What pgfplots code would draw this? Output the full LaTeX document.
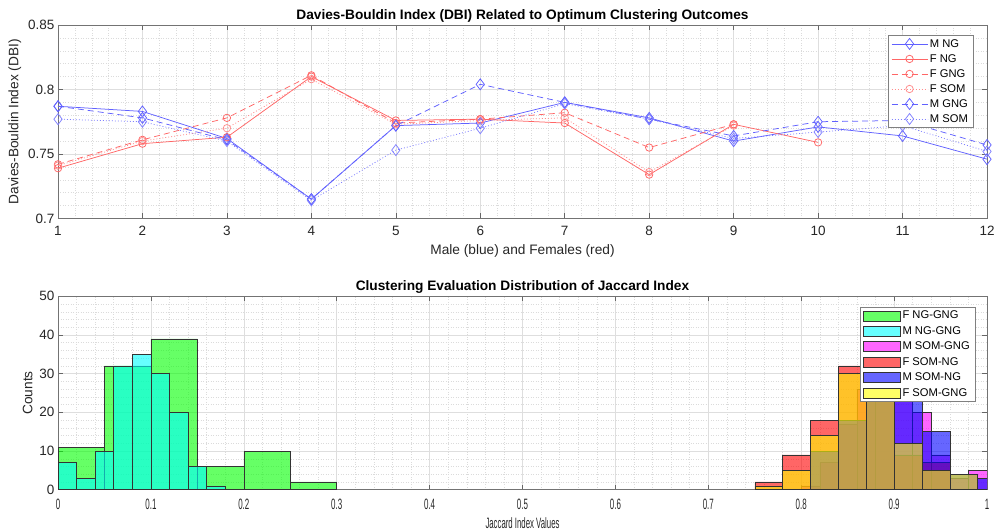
\documentclass[border=0pt]{standalone}
\usepackage{pgfplots}
\pgfplotsset{compat=1.18}
\usepackage{fontspec}
\setmainfont{Liberation Sans}
\definecolor{mblue}{rgb}{0.38,0.38,1}
\definecolor{fred}{rgb}{1,0.4,0.4}
\definecolor{axgray}{rgb}{0.15,0.15,0.15}
\definecolor{gridmaj}{rgb}{0.87,0.87,0.87}
\definecolor{gridmin}{rgb}{0.86,0.86,0.86}
\definecolor{hgreen}{rgb}{0,1,0}
\definecolor{hcyan}{rgb}{0,1,1}
\definecolor{hmagenta}{rgb}{1,0,1}
\definecolor{hred}{rgb}{1,0,0}
\definecolor{hblue}{rgb}{0,0,1}
\definecolor{hyellow}{rgb}{1,1,0}
\begin{document}
\begin{tikzpicture}
\useasboundingbox (0pt,0pt) rectangle (995pt,532pt);
\pgfplotsset{
  mystyle/.style={
    scale only axis, width=929pt, height=193.5pt,
    axis line style={draw=black!55, line width=0.6pt},
    tick style={draw=black!60, line width=0.6pt},
    tick align=inside, major tick length=5pt, minor tick length=0pt,
    grid=both,
    major grid style={draw=gridmaj, line width=0.5pt},
    minor grid style={draw=gridmin, line width=0.5pt, dotted},
    ticklabel style={font=\fontsize{13.5}{15}\selectfont, text=axgray},
    /pgf/number format/assume math mode=true,
    label style={font=\fontsize{13.7}{16}\selectfont, text=axgray},
    title style={font=\bfseries\fontsize{13.7}{16}\selectfont, yshift=-7pt},
    legend cell align=left,
  },
  dbiline/.style={line width=0.75pt},
  histbar/.style={ybar, bar shift=0pt, fill opacity=0.6, draw=black!80, line width=0.5pt},
}
\begin{axis}[mystyle, at={(58pt,313.5pt)}, anchor=south west,
  xmin=1, xmax=12, ymin=0.7, ymax=0.85,
  xtick={1,...,12}, ytick={0.7,0.75,0.8,0.85},
  yticklabels={0.7,0.75,0.8,0.85},
  minor x tick num=4, minor y tick num=4,
  xticklabel style={yshift=-4pt},
  xlabel style={yshift=-2pt},
  title={Davies-Bouldin Index (DBI) Related to Optimum Clustering Outcomes},
  xlabel={Male (blue) and Females (red)},
  ylabel={Davies-Bouldin Index (DBI)},
  legend style={at={(axis description cs:0.985,0.948)}, anchor=north east,
    font=\fontsize{11.2}{12}\selectfont, draw=black!50, fill=white, row sep=1.7pt},
  legend image code/.code={\draw[mark repeat=2,mark phase=2,#1] plot coordinates {(0pt,0pt) (18pt,0pt) (36pt,0pt)};},
]
\addplot[dbiline, mblue, mark=diamond, mark size=5.5pt] coordinates {
(1,0.787) (2,0.783) (3,0.762) (4,0.715) (5,0.772) (6,0.774) (7,0.790) (8,0.778) (9,0.760) (10,0.771) (11,0.764) (12,0.746)};
\addlegendentry{M NG}
\addplot[dbiline, fred, mark=o, mark size=3.7pt] coordinates {
(1,0.739) (2,0.758) (3,0.763) (4,0.810) (5,0.776) (6,0.777) (7,0.774) (8,0.734) (9,0.773) (10,0.759)};
\addlegendentry{F NG}
\addplot[dbiline, fred, dash pattern=on 6pt off 4pt, mark=o, mark size=3.7pt, mark options={solid}] coordinates {
(1,0.742) (2,0.761) (3,0.778) (4,0.811) (5,0.774) (6,0.777) (7,0.782) (8,0.755) (9,0.773)};
\addlegendentry{F GNG}
\addplot[dbiline, fred!75, dash pattern=on 1pt off 2pt, mark=o, mark size=3.7pt, mark options={solid}] coordinates {
(1,0.741) (2,0.760) (3,0.770) (4,0.808) (5,0.773) (6,0.776) (7,0.778) (8,0.736) (9,0.772)};
\addlegendentry{F SOM}
\addplot[dbiline, mblue, dash pattern=on 6pt off 4pt, mark=diamond, mark size=5.5pt, mark options={solid}] coordinates {
(1,0.787) (2,0.778) (3,0.761) (4,0.715) (5,0.772) (6,0.804) (7,0.790) (8,0.777) (9,0.764) (10,0.775) (11,0.776) (12,0.757)};
\addlegendentry{M GNG}
\addplot[dbiline, mblue!80, dash pattern=on 1pt off 2pt, mark=diamond, mark size=5.5pt, mark options={solid}] coordinates {
(1,0.777) (2,0.775) (3,0.760) (4,0.714) (5,0.753) (6,0.770) (7,0.789) (8,0.777) (9,0.762) (10,0.767) (11,0.772) (12,0.752)};
\addlegendentry{M SOM}
\end{axis}

\begin{axis}[mystyle, at={(58pt,42.3pt)}, anchor=south west,
  height=193.4pt,
  xmin=0, xmax=1, ymin=0, ymax=50,
  xtick={0,0.1,0.2,0.3,0.4,0.5,0.6,0.7,0.8,0.9,1},
  xticklabels={0,0.1,0.2,0.3,0.4,0.5,0.6,0.7,0.8,0.9,1},
  ytick={0,10,20,30,40,50},
  minor x tick num=4, minor y tick num=4,
  xticklabel style={font=\fontsize{15}{16}\selectfont, xscale=0.53, yshift=-6pt},
  xlabel style={font=\fontsize{15}{17}\selectfont, xscale=0.52, yshift=-1pt},
  title={Clustering Evaluation Distribution of Jaccard Index},
  xlabel={Jaccard Index Values},
  ylabel={Counts},
  legend style={at={(axis description cs:0.987,0.945)}, anchor=north east,
    font=\fontsize{11.2}{12}\selectfont, draw=black!50, fill=white, row sep=2.1pt},
  legend image code/.code={\draw[#1] (0pt,-5pt) rectangle (37pt,5pt);},
]
\addplot[histbar, fill=hgreen, bar width=0.05] coordinates {
(0.025,11) (0.075,32) (0.125,39) (0.175,6) (0.225,10) (0.275,2)};
\addlegendentry{F NG-GNG}
\addplot[histbar, fill=hcyan, bar width=0.02] coordinates {
(0.01,7) (0.03,3) (0.05,10) (0.07,32) (0.09,35) (0.11,30) (0.13,20) (0.15,6) (0.17,1)};
\addlegendentry{M NG-GNG}
\addplot[histbar, fill=hmagenta, bar width=0.02] coordinates {
(0.81,1) (0.83,7) (0.85,17) (0.87,26) (0.89,38) (0.91,28) (0.93,20) (0.95,9) (0.97,3) (0.99,5)};
\addlegendentry{M SOM-GNG}
\addplot[histbar, fill=hred, bar width=0.03] coordinates {
(0.765,2) (0.795,9) (0.825,18) (0.855,32) (0.885,47) (0.915,9) (0.945,7)};
\addlegendentry{F SOM-NG}
\addplot[histbar, fill=hblue, bar width=0.03] coordinates {
(0.825,10) (0.855,18) (0.885,35) (0.915,26) (0.945,15) (0.975,4) (1.005,3)};
\addlegendentry{M SOM-NG}
\addplot[histbar, fill=hyellow, bar width=0.03] coordinates {
(0.765,1) (0.795,5) (0.825,14) (0.855,30) (0.885,40) (0.915,12) (0.945,5) (0.975,4)};
\addlegendentry{F SOM-GNG}
\end{axis}
\end{tikzpicture}
\end{document}
